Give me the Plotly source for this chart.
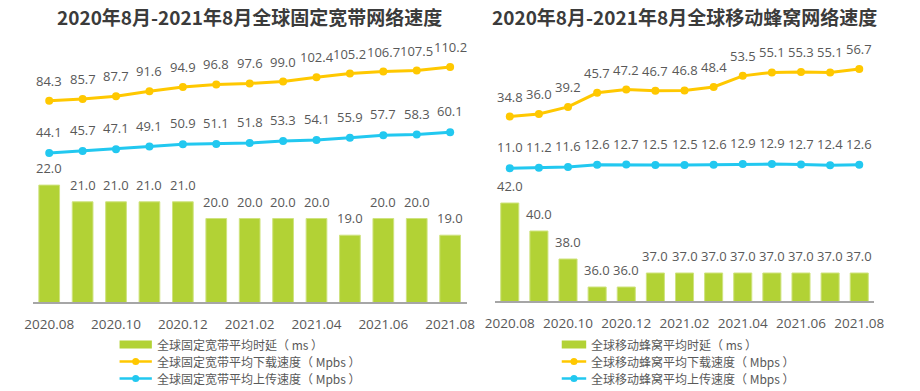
import plotly.graph_objects as go

# ---------------- data ----------------
months = ["2020.08", "2020.09", "2020.10", "2020.11", "2020.12", "2021.01", "2021.02",
          "2021.03", "2021.04", "2021.05", "2021.06", "2021.07", "2021.08"]
tick_months = months[::2]

fixed_latency = [22.0, 21.0, 21.0, 21.0, 21.0, 20.0, 20.0, 20.0, 20.0, 19.0, 20.0, 20.0, 19.0]
fixed_download = [84.3, 85.7, 87.7, 91.6, 94.9, 96.8, 97.6, 99.0, 102.4, 105.2, 106.7, 107.5, 110.2]
fixed_upload = [44.1, 45.7, 47.1, 49.1, 50.9, 51.1, 51.8, 53.3, 54.1, 55.9, 57.7, 58.3, 60.1]

mobile_latency = [42.0, 40.0, 38.0, 36.0, 36.0, 37.0, 37.0, 37.0, 37.0, 37.0, 37.0, 37.0, 37.0]
mobile_download = [34.8, 36.0, 39.2, 45.7, 47.2, 46.7, 46.8, 48.4, 53.5, 55.1, 55.3, 55.1, 56.7]
mobile_upload = [11.0, 11.2, 11.6, 12.6, 12.7, 12.5, 12.5, 12.6, 12.9, 12.9, 12.7, 12.4, 12.6]

title_fixed = "2020年8月-2021年8月全球固定宽带网络速度"
title_mobile = "2020年8月-2021年8月全球移动蜂窝网络速度"
legend_fixed = ["全球固定宽带平均时延（ ms ）", "全球固定宽带平均下载速度（ Mpbs ）", "全球固定宽带平均上传速度（ Mpbs ）"]
legend_mobile = ["全球移动蜂窝平均时延（ ms ）", "全球移动蜂窝平均下载速度（ Mbps ）", "全球移动蜂窝平均上传速度（ Mbps ）"]

# ---------------- style ----------------
W, H = 920, 391
GREEN = "#b2d235"
YELLOW = "#ffc800"
BLUE = "#22c8f0"
TXT = "#595959"
AXIS = "#a6a6a6"
FONT = "Open Sans, Noto Sans CJK SC, sans-serif"
CJK = "Noto Sans CJK SC, sans-serif"
LBL = 13
TICK = 13.5

def px(x):
    return x / W

def py(y):
    return 1 - y / H

fig = go.Figure()

bar_line = dict(color="#cfe37f", width=1)
# left chart
fig.add_trace(go.Bar(x=months, y=fixed_latency, xaxis="x", yaxis="y", width=0.62,
                     marker=dict(color=GREEN, line=bar_line), showlegend=False))
fig.add_trace(go.Scatter(x=months, y=fixed_download, xaxis="x", yaxis="y2", mode="lines+markers",
                         line=dict(color=YELLOW, width=3), marker=dict(color=YELLOW, size=8),
                         showlegend=False))
fig.add_trace(go.Scatter(x=months, y=fixed_upload, xaxis="x", yaxis="y2", mode="lines+markers",
                         line=dict(color=BLUE, width=3), marker=dict(color=BLUE, size=8),
                         showlegend=False))
# right chart
fig.add_trace(go.Bar(x=months, y=mobile_latency, xaxis="x2", yaxis="y3", width=0.62,
                     marker=dict(color=GREEN, line=bar_line), showlegend=False))
fig.add_trace(go.Scatter(x=months, y=mobile_download, xaxis="x2", yaxis="y4", mode="lines+markers",
                         line=dict(color=YELLOW, width=3), marker=dict(color=YELLOW, size=8),
                         showlegend=False))
fig.add_trace(go.Scatter(x=months, y=mobile_upload, xaxis="x2", yaxis="y4", mode="lines+markers",
                         line=dict(color=BLUE, width=3), marker=dict(color=BLUE, size=8),
                         showlegend=False))

annotations = []

def add_labels(ys, xref, yref, shift):
    # category position given by index in the months list
    for i, yv in enumerate(ys):
        annotations.append(dict(x=i, y=yv, xref=xref, yref=yref, text=f"{yv:.1f}",
                                showarrow=False, yshift=shift, yanchor="middle",
                                font=dict(family=FONT, size=LBL, color=TXT)))

add_labels(fixed_latency, "x", "y", 17)
add_labels(fixed_download, "x", "y2", 20)
add_labels(fixed_upload, "x", "y2", 21)
add_labels(mobile_latency, "x2", "y3", 17)
add_labels(mobile_download, "x2", "y4", 20)
add_labels(mobile_upload, "x2", "y4", 21)

# titles
for cx, t in [(245, title_fixed), (689, title_mobile)]:
    annotations.append(dict(x=px(cx), y=py(17), xref="paper", yref="paper", text=f"<b>{t}</b>",
                            showarrow=False, xanchor="center", yanchor="middle",
                            font=dict(family=CJK, size=19, color="#3b3b3b")))

# custom legends
shapes = []

def add_legend(x0, x1, tx, rows, names):
    cx = (x0 + x1) / 2
    shapes.append(dict(type="rect", xref="paper", yref="paper", x0=px(x0), x1=px(x1),
                       y0=py(rows[0] + 4), y1=py(rows[0] - 4), fillcolor=GREEN, line=dict(width=0)))
    for r, col in [(rows[1], YELLOW), (rows[2], BLUE)]:
        shapes.append(dict(type="line", xref="paper", yref="paper", x0=px(x0), x1=px(x1),
                           y0=py(r), y1=py(r), line=dict(color=col, width=2.5)))
        shapes.append(dict(type="circle", xref="paper", yref="paper", x0=px(cx - 3.6), x1=px(cx + 3.6),
                           y0=py(r + 3.6), y1=py(r - 3.6), fillcolor=col, line=dict(width=0)))
    for r, n in zip(rows, names):
        annotations.append(dict(x=px(tx), y=py(r), xref="paper", yref="paper", text=n, showarrow=False,
                                xanchor="left", yanchor="middle",
                                font=dict(family=CJK, size=12, color=TXT)))

add_legend(112, 145, 148, [344.5, 361.5, 378.5], legend_fixed)
add_legend(564, 589, 592, [344.5, 361.5, 378.5], legend_mobile)

xcommon = dict(type="category", range=[-0.5, 12.5], tickvals=tick_months, ticktext=tick_months,
               showline=True, linecolor=AXIS, linewidth=2, showgrid=False, zeroline=False,
               ticks="outside", ticklen=9, tickcolor="rgba(0,0,0,0)",
               tickfont=dict(family=FONT, size=TICK, color=TXT), fixedrange=True)

fig.update_layout(
    width=W, height=H, margin=dict(l=0, r=0, t=0, b=0),
    paper_bgcolor="white", plot_bgcolor="white",
    xaxis=dict(domain=[px(23), px(467)], anchor="y", **xcommon),
    yaxis=dict(domain=[py(302), py(50)], range=[15, 30.09], visible=False, anchor="x"),
    yaxis2=dict(overlaying="y", range=[-70.4, 123.3], visible=False, anchor="x"),
    xaxis2=dict(domain=[px(496), px(883)], anchor="y3", **xcommon),
    yaxis3=dict(domain=[py(301), py(50)], range=[35, 52.93], visible=False, anchor="x2"),
    yaxis4=dict(overlaying="y3", range=[-50.07, 65.4], visible=False, anchor="x2"),
    annotations=annotations, shapes=shapes, showlegend=False,
)

fig.write_html("out.html", config={"displayModeBar": False},
               post_script="document.body.style.margin='0';document.body.style.overflow='hidden';")
